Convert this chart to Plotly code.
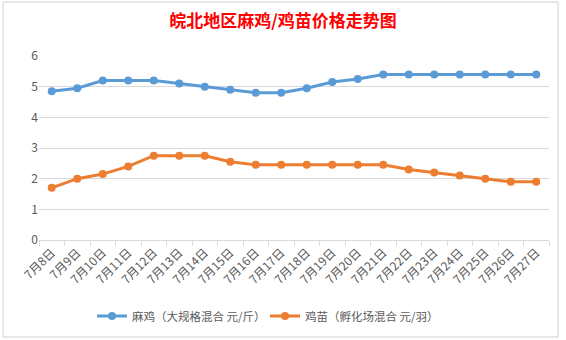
import plotly.graph_objects as go

dates = ["7月8日", "7月9日", "7月10日", "7月11日", "7月12日", "7月13日", "7月14日",
         "7月15日", "7月16日", "7月17日", "7月18日", "7月19日", "7月20日", "7月21日",
         "7月22日", "7月23日", "7月24日", "7月25日", "7月26日", "7月27日"]
maji = [4.85, 4.95, 5.2, 5.2, 5.2, 5.1, 5.0, 4.9, 4.8, 4.8, 4.95, 5.15, 5.25, 5.4,
        5.4, 5.4, 5.4, 5.4, 5.4, 5.4]
jimiao = [1.7, 2.0, 2.15, 2.4, 2.75, 2.75, 2.75, 2.55, 2.45, 2.45, 2.45, 2.45, 2.45,
          2.45, 2.3, 2.2, 2.1, 2.0, 1.9, 1.9]
name_maji = "麻鸡（大规格混合 元/斤）"
name_jimiao = "鸡苗（孵化场混合 元/羽）"
title_text = "皖北地区麻鸡/鸡苗价格走势图"

font_family = "Noto Sans CJK SC, Microsoft YaHei, sans-serif"

fig = go.Figure()
fig.add_trace(go.Scatter(x=dates, y=maji, name=name_maji, mode="lines+markers",
                         line=dict(color="#5B9BD5", width=3),
                         marker=dict(color="#5B9BD5", size=8)))
fig.add_trace(go.Scatter(x=dates, y=jimiao, name=name_jimiao, mode="lines+markers",
                         line=dict(color="#ED7D31", width=3),
                         marker=dict(color="#ED7D31", size=8)))

fig.update_layout(
    width=566, height=340,
    margin=dict(l=39, r=17, t=56, b=100, autoexpand=False),
    paper_bgcolor="white", plot_bgcolor="white",
    font=dict(family=font_family, color="#595959", size=12),
    title=dict(text="<b>" + title_text + "</b>", x=0.5, xanchor="center",
               y=1 - 21 / 340, yanchor="middle",
               font=dict(family=font_family, size=17, color="#FF0000")),
    showlegend=True,
    legend=dict(orientation="h", x=(92 - 39) / 510, xanchor="left",
                yref="container", y=1 - 316 / 340, yanchor="middle",
                entrywidth=128, entrywidthmode="pixels",
                font=dict(size=11.5, color="#595959"), bgcolor="rgba(0,0,0,0)"),
    xaxis=dict(type="category", tickangle=-45, showgrid=False, automargin=False,
               showline=True, linecolor="#D9D9D9", linewidth=1,
               ticks="outside", tickson="boundaries", ticklen=5, tickcolor="#D9D9D9",
               tickfont=dict(size=12, color="#595959"), range=[-0.5, 19.5]),
    yaxis=dict(range=[0, 6], dtick=1, showgrid=True, gridcolor="#D9D9D9", gridwidth=1,
               zeroline=False, showline=False, ticks="", automargin=False,
               tickfont=dict(size=12, color="#595959")),
    shapes=[dict(type="rect", xref="paper", yref="paper",
                 x0=(3 - 39) / 510, x1=(558 - 39) / 510,
                 y0=(240 - 337) / 184, y1=(240 - 2) / 184,
                 line=dict(color="#D0D0D0", width=1), layer="below")],
)

fig.write_html("out.html")
